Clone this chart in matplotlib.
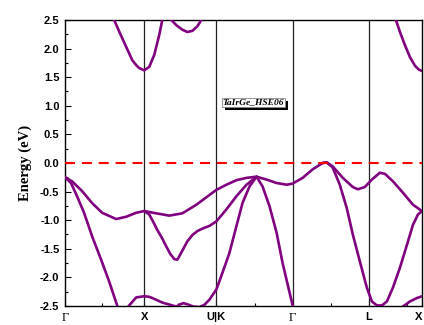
import matplotlib
matplotlib.use("Agg")
import matplotlib.pyplot as plt
from matplotlib.patches import Rectangle

plt.rcParams["axes.unicode_minus"] = False

# high-symmetry points along the k-path
kpt_pos = [0, 79, 151, 227, 303, 356]
kpt_labels = ["Γ", "X", "U|K", "Γ", "L", "X"]

# valence bands (k, E in eV)
vb1_k = [0, 7, 17, 27, 37, 51, 61, 71, 79, 91, 104, 117, 131, 144, 151, 161, 171, 181, 191,
         201, 211, 221, 227, 237, 247, 257, 261, 267, 277, 287, 292, 299, 306, 314, 319, 327,
         337, 347, 356]
vb1_e = [-0.25, -0.32, -0.49, -0.70, -0.87, -0.98, -0.94, -0.87, -0.84, -0.88, -0.92, -0.88,
         -0.73, -0.56, -0.47, -0.38, -0.30, -0.26, -0.24, -0.29, -0.35, -0.38, -0.36, -0.26,
         -0.11, 0.00, 0.01, -0.06, -0.26, -0.42, -0.46, -0.42, -0.29, -0.17, -0.19, -0.32,
         -0.52, -0.73, -0.84]

vb2_k = [0, 6, 12, 19, 27, 36, 44, 52, 54]
vb2_e = [-0.25, -0.35, -0.58, -0.87, -1.28, -1.69, -2.07, -2.49, -2.60]

vb3_k = [79, 84, 88, 92, 97, 101, 105, 109, 112, 114, 118, 122, 127, 132, 138, 144, 151, 161,
         171, 181, 191, 197, 204, 211, 217, 224, 227, 228]
vb3_e = [-0.84, -0.90, -1.03, -1.17, -1.32, -1.46, -1.59, -1.68, -1.69, -1.63, -1.50, -1.37,
         -1.26, -1.19, -1.14, -1.10, -1.02, -0.81, -0.58, -0.38, -0.24, -0.41, -0.76, -1.22,
         -1.75, -2.27, -2.49, -2.60]

vb4_k = [60, 64, 71, 79, 84, 87, 97, 107, 111, 115, 118, 122, 128, 134, 139, 144, 151, 157,
         164, 171, 177, 184, 191]
vb4_e = [-2.58, -2.49, -2.35, -2.33, -2.34, -2.36, -2.44, -2.49, -2.51, -2.47, -2.45, -2.47,
         -2.51, -2.52, -2.48, -2.39, -2.21, -1.92, -1.57, -1.10, -0.70, -0.41, -0.24]

vb5_k = [257, 261, 267, 274, 281, 287, 294, 301, 306, 311, 316, 321, 327, 334, 341, 347, 352,
         356]
vb5_e = [0.00, 0.01, -0.08, -0.38, -0.79, -1.25, -1.72, -2.18, -2.42, -2.49, -2.49, -2.42,
         -2.18, -1.83, -1.43, -1.08, -0.90, -0.84]

vb6_k = [334, 337, 344, 351, 356]
vb6_e = [-2.60, -2.51, -2.42, -2.36, -2.33]

# conduction bands
cb1_k = [47, 49, 54, 61, 67, 71, 74, 79, 84, 89, 94, 97, 99]
cb1_e = [2.60, 2.50, 2.30, 2.03, 1.80, 1.71, 1.66, 1.62, 1.68, 1.89, 2.24, 2.50, 2.65]

cb2_k = [104, 106, 111, 117, 122, 127, 132, 136, 138]
cb2_e = [2.56, 2.50, 2.41, 2.33, 2.29, 2.31, 2.39, 2.50, 2.60]

cb3_k = [328, 330, 334, 339, 344, 349, 353, 356]
cb3_e = [2.60, 2.50, 2.29, 2.06, 1.85, 1.70, 1.63, 1.61]

bands = [(vb1_k, vb1_e), (vb2_k, vb2_e), (vb3_k, vb3_e), (vb4_k, vb4_e), (vb5_k, vb5_e),
         (vb6_k, vb6_e), (cb1_k, cb1_e), (cb2_k, cb2_e), (cb3_k, cb3_e)]

fig = plt.figure(figsize=(4.24, 3.25), dpi=100)
ax = fig.add_axes([0.1533, 0.0585, 0.842, 0.88])

for k, e in bands:
    ax.plot(k, e, color="#800080", lw=1.9, solid_capstyle="round", solid_joinstyle="round",
            zorder=3)

ax.axhline(0, color="red", lw=1.5, dashes=(4.8, 3.3), zorder=4)
for p in kpt_pos[1:-1]:
    ax.axvline(p, color="#222222", lw=0.9, zorder=2)

ax.set_xlim(0, 356)
ax.set_ylim(-2.5, 2.5)

ax.set_xticks(kpt_pos)
ax.set_xticklabels(kpt_labels)
ax.set_xticks([37, 113, 189, 265, 341], minor=True)
ax.set_yticks([-2.5, -2.0, -1.5, -1.0, -0.5, 0.0, 0.5, 1.0, 1.5, 2.0, 2.5])
ax.set_yticklabels(["%.1f" % v for v in ax.get_yticks()])
ax.set_yticks([-2.25, -1.75, -1.25, -0.75, -0.25, 0.25, 0.75, 1.25, 1.75, 2.25], minor=True)
ax.tick_params(which="major", direction="in", length=4, width=0.8, pad=4)
ax.tick_params(which="minor", direction="in", length=2.5, width=0.8)

for lab in ax.get_yticklabels() + ax.get_xticklabels():
    lab.set_fontfamily("Liberation Sans")
    lab.set_fontweight("bold")
    lab.set_fontsize(8)
for lab in ax.get_xticklabels():
    if lab.get_text() == "Γ":
        lab.set_fontfamily("Liberation Serif")
        lab.set_fontweight("normal")
        lab.set_fontsize(9)
# keep the last "X" inside the figure
ax.get_xticklabels()[-1].set_horizontalalignment("right")

for s in ax.spines.values():
    s.set_linewidth(1.0)

ax.set_ylabel("Energy (eV)", family="Liberation Serif", weight="bold", fontsize=10.5,
              labelpad=6)

# label box with drop shadow
fig.add_artist(Rectangle((0.5295, 0.6615), 0.1498, 0.0262, transform=fig.transFigure,
                         facecolor="black", edgecolor="none", zorder=5))
fig.add_artist(Rectangle((0.5229, 0.6717), 0.1493, 0.0258, transform=fig.transFigure,
                         facecolor="white", edgecolor="#888888", lw=0.6, zorder=6))
fig.text(0.5975, 0.6846, "TaIrGe_HSE06", family="Liberation Serif", weight="bold",
         style="italic", fontsize=6.8, ha="center", va="center", zorder=7)

fig.savefig("out.png", dpi=100)
